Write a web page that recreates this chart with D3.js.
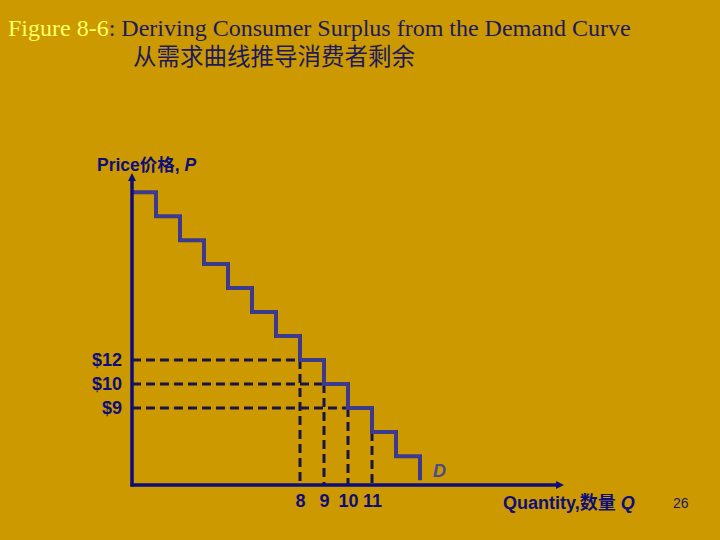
<!DOCTYPE html>
<html>
<head>
<meta charset="utf-8">
<script src="https://cdn.jsdelivr.net/npm/d3@7"></script>
<style>
  body { margin: 0; background: #cc9900; }
  #chart-container { width: 720px; height: 540px; }
</style>
</head>
<body>
<div id="chart-container"></div>
<script>
// willingness to pay of each consumer, one step of the demand curve each
const demandPrices = [26, 24, 22, 20, 18, 16, 14, 12, 10, 9, 8, 7];
const demandFloor = 6;
const markQuantities = [8, 9, 10, 11];
const markPrices = [12, 10, 9, 8];
// price tick labels on the vertical axis
const priceTicks = [12, 10, 9];
// ends of the two axes (quantity and price units)
const qExtent = [1, 19];
const pExtent = [5.8, 27.6];

const width = 720, height = 540;
const navy = "#0e0e78";

const svg = d3.select('#chart-container').append('svg')
  .attr('width', width)
  .attr('height', height);

svg.append('rect').attr('width', width).attr('height', height).attr('fill', '#cc9900');

// TITLE
const title = svg.append('text')
  .attr('x', 8).attr('y', 36)
  .attr('font-family', '"Liberation Serif", "Times New Roman", serif')
  .attr('font-size', 24);
title.append('tspan').attr('fill', '#ffff66').text('Figure 8-6');
title.append('tspan').attr('fill', '#1c1a5c').text(': Deriving Consumer Surplus from the Demand Curve');

svg.append('text')
  .attr('x', 133).attr('y', 65)
  .attr('font-family', '"Noto Sans CJK SC", sans-serif')
  .attr('font-size', 23.5)
  .attr('fill', '#1c1a5c')
  .text('从需求曲线推导消费者剩余');

// SCALES (the price axis is schematic, so it is piecewise)
const x = d3.scaleLinear().domain(qExtent).range([132, 564]);
const y = d3.scaleLinear()
  .domain([pExtent[0], 9, 10, 12, pExtent[1]])
  .range([485, 408, 384, 360, 173]);

const chart = svg.append('g');

// dashed guide lines
const dashColor = "#1a1446";
chart.selectAll('line.hdash')
  .data(markQuantities.filter((q, i) => priceTicks.includes(markPrices[i])))
  .enter().append('line')
  .attr('class', 'hdash')
  .attr('x1', x(qExtent[0])).attr('x2', (q) => x(q))
  .attr('y1', (q) => y(markPrices[markQuantities.indexOf(q)]))
  .attr('y2', (q) => y(markPrices[markQuantities.indexOf(q)]))
  .attr('stroke', dashColor).attr('stroke-width', 3).attr('stroke-dasharray', '9,5');

chart.selectAll('line.vdash')
  .data(markQuantities)
  .enter().append('line')
  .attr('class', 'vdash')
  .attr('x1', (q) => x(q)).attr('x2', (q) => x(q))
  .attr('y1', (q, i) => y(markPrices[i]))
  .attr('y2', y(pExtent[0]))
  .attr('stroke', dashColor).attr('stroke-width', 3).attr('stroke-dasharray', '9,5');

// STAIRCASE DEMAND CURVE
const n = demandPrices.length;
const stepPts = demandPrices.map((p, i) => [qExtent[0] + i, p]);
stepPts.push([qExtent[0] + n, demandPrices[n - 1]]);
stepPts.push([qExtent[0] + n, demandFloor]);

chart.append('path')
  .datum(stepPts)
  .attr('fill', 'none')
  .attr('stroke', '#3c3a8e')
  .attr('stroke-width', 4)
  .attr('d', d3.line().x((d) => x(d[0])).y((d) => y(d[1])).curve(d3.curveStepAfter));

// AXES
const yAxis = chart.append('g')
  .attr('transform', `translate(${x(qExtent[0])},0)`)
  .call(d3.axisLeft(y).tickValues(priceTicks).tickSize(0).tickPadding(10).tickFormat((d) => '$' + d));
const xAxis = chart.append('g')
  .attr('transform', `translate(0,${y(pExtent[0])})`)
  .call(d3.axisBottom(x).tickValues(markQuantities).tickSize(0).tickPadding(9));

[yAxis, xAxis].forEach((g) => {
  g.select('.domain').remove();
  g.selectAll('text')
    .attr('font-family', '"Liberation Sans", Arial, sans-serif')
    .attr('font-size', 18)
    .attr('font-weight', 'bold')
    .attr('fill', navy);
});

chart.append('line')
  .attr('x1', x(qExtent[0])).attr('x2', x(qExtent[0]))
  .attr('y1', y(pExtent[0]) + 1.5).attr('y2', y(pExtent[1]) + 6)
  .attr('stroke', navy).attr('stroke-width', 3.5);
chart.append('line')
  .attr('x1', x(qExtent[0]) - 1.5).attr('x2', x(qExtent[1]) - 6)
  .attr('y1', y(pExtent[0])).attr('y2', y(pExtent[0]))
  .attr('stroke', navy).attr('stroke-width', 3.5);

// arrow heads
const ax = x(qExtent[0]), ay = y(pExtent[1]);
chart.append('path')
  .attr('d', `M${ax},${ay} L${ax - 4},${ay + 8} L${ax + 4},${ay + 8} Z`)
  .attr('fill', navy);
const bx = x(qExtent[1]), by = y(pExtent[0]);
chart.append('path')
  .attr('d', `M${bx},${by} L${bx - 8},${by - 4} L${bx - 8},${by + 4} Z`)
  .attr('fill', navy);

// AXIS TITLES
const sans = '"Liberation Sans", Arial, "Noto Sans CJK SC", sans-serif';
const pLabel = svg.append('text')
  .attr('x', 97).attr('y', 171)
  .attr('font-family', sans).attr('font-size', 17.5).attr('font-weight', 'bold')
  .attr('fill', navy);
pLabel.append('tspan').text('Price价格, ');
pLabel.append('tspan').attr('font-style', 'italic').text('P');

const qLabel = svg.append('text')
  .attr('x', 503).attr('y', 509)
  .attr('font-family', sans).attr('font-size', 18).attr('font-weight', 'bold')
  .attr('fill', navy);
qLabel.append('tspan').text('Quantity,数量 ');
qLabel.append('tspan').attr('font-style', 'italic').text('Q');

svg.append('text')
  .attr('x', 433).attr('y', 477)
  .attr('font-family', sans).attr('font-size', 18).attr('font-weight', 'bold')
  .attr('font-style', 'italic')
  .attr('fill', '#4a4a8c')
  .text('D');

svg.append('text')
  .attr('x', 673).attr('y', 508)
  .attr('font-family', sans).attr('font-size', 14)
  .attr('fill', '#1c1a5c')
  .text('26');
</script>
</body>
</html>
